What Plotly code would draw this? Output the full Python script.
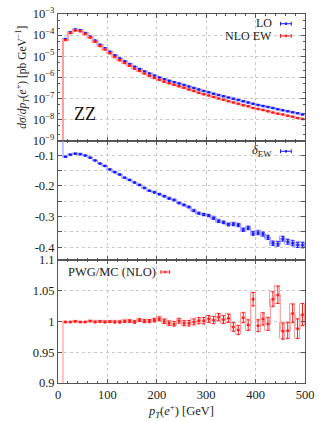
import plotly.graph_objects as go

# ---------------- data ----------------
bin_edges = list(range(10, 510, 10))
bin_centers = [e + 5 for e in bin_edges[:-1]]

log10_lo = [-4.18, -3.86, -3.74, -3.77, -3.90, -4.07, -4.26, -4.46, -4.62, -4.79,
            -4.96, -5.11, -5.24, -5.37, -5.50, -5.61, -5.72, -5.82, -5.92, -6.01,
            -6.09, -6.16, -6.23, -6.30, -6.37, -6.44, -6.51, -6.58, -6.65, -6.71,
            -6.78, -6.84, -6.90, -6.96, -7.02, -7.08, -7.14, -7.20, -7.26, -7.31,
            -7.36, -7.41, -7.46, -7.51, -7.56, -7.61, -7.66, -7.71, -7.76]

delta_ew = [-0.105, -0.098, -0.095, -0.097, -0.101, -0.108, -0.117, -0.127, -0.135, -0.146,
            -0.155, -0.163, -0.173, -0.181, -0.189, -0.197, -0.207, -0.216, -0.221, -0.227,
            -0.234, -0.241, -0.246, -0.256, -0.262, -0.269, -0.281, -0.289, -0.293, -0.297,
            -0.305, -0.315, -0.319, -0.326, -0.325, -0.328, -0.343, -0.337, -0.355, -0.353,
            -0.357, -0.368, -0.387, -0.389, -0.372, -0.382, -0.387, -0.392, -0.393]

delta_err = [0.001, 0.001, 0.001, 0.001, 0.001, 0.001, 0.001, 0.001, 0.001, 0.001,
             0.0012, 0.0012, 0.0013, 0.0013, 0.0014, 0.0015, 0.0015, 0.0016, 0.0017, 0.0018,
             0.002, 0.002, 0.0022, 0.0024, 0.0025, 0.0027, 0.003, 0.003, 0.0032, 0.0035,
             0.0037, 0.004, 0.0042, 0.0045, 0.0048, 0.005, 0.0053, 0.0056, 0.006, 0.0062,
             0.0065, 0.0068, 0.0072, 0.0075, 0.0078, 0.008, 0.0083, 0.0086, 0.009]

ratio_nlo = [0.999, 0.999, 1.000, 0.999, 0.999, 1.0005, 0.999, 1.000, 0.999, 0.9995,
             0.999, 0.999, 1.000, 1.0005, 0.999, 1.002, 1.0005, 1.0005, 1.002, 1.004,
             1.000, 0.997, 0.996, 1.001, 0.997, 0.997, 0.999, 1.001, 1.001, 1.004,
             1.002, 1.007, 1.003, 1.005, 0.991, 0.986, 1.006, 0.994, 1.036, 0.993,
             1.004, 0.996, 1.036, 1.043, 0.984, 0.985, 1.013, 0.988, 1.011]

ratio_err = [0.001, 0.001, 0.001, 0.001, 0.001, 0.0012, 0.0012, 0.0013, 0.0014, 0.0015,
             0.0016, 0.0017, 0.0018, 0.002, 0.0021, 0.0023, 0.0025, 0.0027, 0.003, 0.0032,
             0.0034, 0.0036, 0.0038, 0.004, 0.0042, 0.0045, 0.0047, 0.005, 0.0052, 0.0055,
             0.0058, 0.006, 0.0063, 0.0066, 0.007, 0.0075, 0.008, 0.0085, 0.011, 0.0095,
             0.01, 0.0105, 0.012, 0.014, 0.013, 0.013, 0.015, 0.016, 0.018]

x_ticks = [0, 100, 200, 300, 400, 500]
top_tick_exps = [-3, -4, -5, -6, -7, -8, -9]
mid_ticks = [-0.1, -0.2, -0.3, -0.4]
bot_ticks = [0.9, 0.95, 1.0, 1.05, 1.1]
bot_tick_text = ["0.9", "0.95", "1", "1.05", "1.1"]

# derived series
lo = [10 ** v for v in log10_lo]
nlo = [l * (1 + d) for l, d in zip(lo, delta_ew)]

# ---------------- styling ----------------
BLUE = "#1a1aff"
BLUE_L = "#a0a0ff"
RED = "#ff1a1a"
RED_L = "#ffa0a0"
FONT = "Liberation Serif"
AX = "#555555"
GRID = "#c8c8c8"
FS = 12.5

fig = go.Figure()


def steps(vals, floor):
    xs = [0] + bin_edges
    ys = [floor] + list(vals) + [vals[-1]]
    return xs, ys


def add_series(vals, errs, color, light, xa, ya, floor, boxes=True, lw=1.2):
    xs, ys = steps(vals, floor)
    fig.add_trace(go.Scatter(x=xs, y=ys, mode="lines", line=dict(color=light, width=lw, shape="hv"),
                             xaxis=xa, yaxis=ya, showlegend=False, hoverinfo="skip"))
    if boxes:
        fig.add_trace(go.Bar(x=bin_centers, y=[2 * e for e in errs],
                             base=[v - e for v, e in zip(vals, errs)], width=10,
                             marker=dict(color="rgba(0,0,0,0)", line=dict(color=light, width=1)),
                             xaxis=xa, yaxis=ya, showlegend=False, hoverinfo="skip"))
    fig.add_trace(go.Scatter(x=bin_centers, y=vals, mode="markers",
                             marker=dict(color=color, size=2.5, symbol="square"),
                             error_y=dict(type="data", array=errs, color=color, thickness=1, width=1.5),
                             xaxis=xa, yaxis=ya, showlegend=False))


lo_err = [v * 0.004 for v in lo]
nlo_err = [v * 0.004 for v in nlo]
add_series(lo, lo_err, BLUE, BLUE_L, "x", "y", 1e-12, boxes=False, lw=2)
add_series(nlo, nlo_err, RED, RED_L, "x", "y", 1e-12, boxes=False, lw=2)
add_series(delta_ew, delta_err, BLUE, BLUE_L, "x2", "y2", 0.0)
add_series(ratio_nlo, ratio_err, RED, RED_L, "x3", "y3", 0.0)

# ---------------- layout ----------------
L, R, T, B = 58, 9, 5, 37
W, H = 319, 421
pw, ph = W - L - R, H - T - B


def px(xp):
    return (xp - L) / pw


def py(yp):
    return (H - B - yp) / ph


d_top = [py(135), 1.0]
d_mid = [py(257.5), py(135)]
d_bot = [0.0, py(257.5)]

common_x = dict(range=[0, 500], tickvals=x_ticks, showgrid=True, gridcolor=GRID, griddash="dot",
                gridwidth=1, ticks="inside", ticklen=4, tickcolor=AX, mirror="allticks",
                showline=True, linecolor=AX, linewidth=1, zeroline=False,
                ticklabeloverflow="allow",
                minor=dict(ticks="inside", ticklen=2, dtick=20, tickcolor=AX))

fig.update_layout(
    width=W, height=H, margin=dict(l=L, r=R, t=T, b=B),
    paper_bgcolor="white", plot_bgcolor="white",
    font=dict(family=FONT, size=FS, color="#222222"),
    barmode="overlay", bargap=0,
    xaxis=dict(**common_x, domain=[0, 1], anchor="y", showticklabels=False),
    xaxis2=dict(**common_x, domain=[0, 1], anchor="y2", matches="x", showticklabels=False),
    xaxis3=dict(**common_x, domain=[0, 1], anchor="y3", matches="x", showticklabels=True,
                title=dict(text="<i>p</i><sub><i>T</i></sub>(<i>e</i><sup>+</sup>) [GeV]",
                           standoff=5, font=dict(size=FS))),
    yaxis=dict(type="log", domain=d_top, range=[-9, -3],
               tickvals=[10 ** e for e in top_tick_exps],
               ticktext=["10<sup>\u2212%d</sup>" % (-e) for e in top_tick_exps],
               showgrid=True, gridcolor=GRID, griddash="dot", ticks="inside", ticklen=4,
               tickcolor=AX, mirror="allticks", showline=True, linecolor=AX, linewidth=1,
               minor=dict(ticks="inside", ticklen=2, tickcolor=AX, showgrid=False),
               title=dict(text="<i>dσ</i>/<i>dp</i><sub><i>T</i></sub>(<i>e</i><sup>+</sup>) [pb GeV<sup>\u22121</sup>]",
                          standoff=3, font=dict(size=11.5))),
    yaxis2=dict(domain=d_mid, range=[-0.441, -0.052], tickvals=mid_ticks,
                ticktext=["%g" % v for v in mid_ticks],
                showgrid=True, gridcolor=GRID, griddash="dot", ticks="inside", ticklen=4,
                tickcolor=AX, mirror="allticks", showline=True, linecolor=AX, linewidth=1,
                zeroline=False,
                minor=dict(ticks="inside", ticklen=4, dtick=0.05, tick0=0, tickcolor=AX,
                           showgrid=True, gridcolor=GRID, griddash="dot")),
    yaxis3=dict(domain=d_bot, range=[0.9, 1.1], tickvals=bot_ticks, ticktext=bot_tick_text,
                showgrid=True, gridcolor=GRID, griddash="dot", ticks="inside", ticklen=4,
                tickcolor=AX, mirror="allticks", showline=True, linecolor=AX, linewidth=1,
                zeroline=False),
)

# ---------------- legends (text + sample) ----------------
annots = []
shapes = []


def sample(x0p, x1p, yp, color):
    x0, x1, y = px(x0p), px(x1p), py(yp)
    cap = 2.0 / ph
    shapes.append(dict(type="line", xref="paper", yref="paper", x0=x0, x1=x1, y0=y, y1=y,
                       line=dict(color=color, width=1)))
    for xx in (x0, x1):
        shapes.append(dict(type="line", xref="paper", yref="paper", x0=xx, x1=xx,
                           y0=y - cap, y1=y + cap, line=dict(color=color, width=1)))
    xm = (x0 + x1) / 2
    shapes.append(dict(type="line", xref="paper", yref="paper", x0=xm - 1 / pw, x1=xm + 1 / pw,
                       y0=y, y1=y, line=dict(color=color, width=2.5)))


def label(text, xp, yp, anchor, size=FS):
    annots.append(dict(text=text, x=px(xp), y=py(yp), xref="paper", yref="paper",
                       xanchor=anchor, yanchor="middle", showarrow=False,
                       font=dict(size=size, family=FONT, color="#222222")))


label("LO", 278, 14.5, "right", 12)
sample(285, 296, 15, BLUE)
label("NLO EW", 278, 28, "right", 12)
sample(285, 296, 27.5, RED)
label("<i>δ</i><sub>EW</sub>", 278, 146, "right")
sample(285, 296, 146, BLUE)
label("PWG/MC (NLO)", 66, 270, "left")
sample(163, 172, 270, RED)

annots.append(dict(text="ZZ", x=px(86), y=py(108), xref="paper", yref="paper",
                   xanchor="center", yanchor="middle", showarrow=False,
                   font=dict(size=18, family=FONT, color="#111111")))

fig.update_layout(annotations=annots, shapes=shapes)

fig.write_html("out.html", config={"displayModeBar": False},
               post_script="document.body.style.margin='0';")
